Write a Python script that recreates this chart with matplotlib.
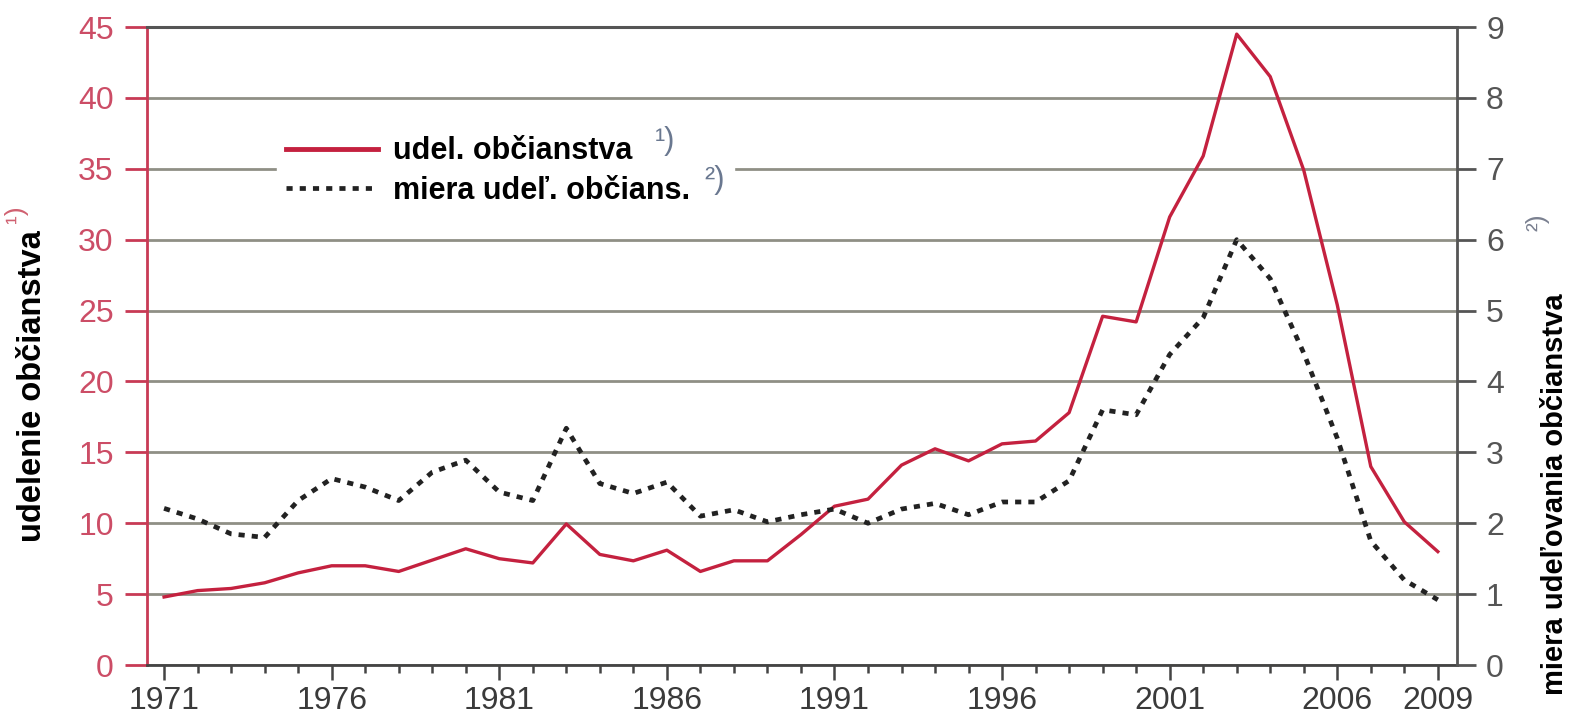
import matplotlib
matplotlib.use("Agg")
import matplotlib.pyplot as plt
from matplotlib.lines import Line2D

# roky
years = list(range(1971, 2010))
# udelenie občianstva (tis.), ľavá os
udelenie = [4.8, 5.25, 5.4, 5.8, 6.5, 7.0, 7.0, 6.6, 7.4, 8.2,
            7.5, 7.2, 9.95, 7.8, 7.35, 8.1, 6.6, 7.35, 7.35, 9.2,
            11.2, 11.7, 14.1, 15.25, 14.4, 15.6, 15.8, 17.8, 24.6, 24.2,
            31.6, 35.9, 44.5, 41.5, 34.9, 25.4, 14.0, 10.1, 8.0]
# miera udeľovania občianstva, pravá os
miera = [2.21, 2.06, 1.85, 1.8, 2.32, 2.63, 2.51, 2.32, 2.72, 2.89,
         2.44, 2.32, 3.34, 2.56, 2.42, 2.58, 2.1, 2.19, 2.02, 2.12,
         2.2, 2.0, 2.2, 2.28, 2.12, 2.3, 2.3, 2.6, 3.6, 3.53,
         4.38, 4.9, 6.0, 5.45, 4.4, 3.2, 1.75, 1.2, 0.92]

left_ticks = [0, 5, 10, 15, 20, 25, 30, 35, 40, 45]
right_ticks = [0, 1, 2, 3, 4, 5, 6, 7, 8, 9]
x_major = [1971, 1976, 1981, 1986, 1991, 1996, 2001, 2006, 2009]

RED = "#c4213f"
RED_AX = "#c83a55"
RED_LBL = "#cc4d66"
GRAY = "#555555"
DOTS = (0, (1.3, 1.5))

plt.rcParams['font.family'] = ['Liberation Sans', 'DejaVu Sans']

fig = plt.figure(figsize=(15.72, 7.22), dpi=100)
ax = fig.add_axes([0.0935, 0.0789, 0.8333, 0.8837])
ax2 = ax.twinx()

ax.set_xlim(1970.49, 2009.57)
ax.set_ylim(0, 45)
ax2.set_ylim(0, 9)

ax.set_yticks(left_ticks)
ax2.set_yticks(right_ticks)
ax.set_xticks(x_major)
ax.set_xticks(years, minor=True)

ax.yaxis.grid(True, color="#8f8f85", lw=2)
ax.set_axisbelow(True)

ax.plot(years, udelenie, color=RED, lw=2.4, zorder=3)
ax2.plot(years, miera, color="#222222", lw=3.4, linestyle=DOTS, zorder=3)

# osi
ax.spines['left'].set_color(RED_AX)
ax.spines['left'].set_linewidth(2)
ax.spines['bottom'].set_color("#444444")
ax.spines['bottom'].set_linewidth(2)
ax.spines['top'].set_color("#555555")
ax.spines['top'].set_linewidth(2.2)
ax.spines['right'].set_visible(False)
ax2.spines['right'].set_color(GRAY)
ax2.spines['right'].set_linewidth(2)
for s in ['left', 'top', 'bottom']:
    ax2.spines[s].set_visible(False)

ax.tick_params(axis='y', direction='out', length=16, width=2, color=RED_AX,
               labelcolor=RED_LBL, labelsize=23, pad=8)
ax2.tick_params(axis='y', direction='out', length=14, width=2, color=GRAY,
                labelcolor=GRAY, labelsize=23, pad=7)
ax.tick_params(axis='x', which='major', direction='out', length=11, width=1.8,
               color="#444444", labelcolor="#3a3a3a", labelsize=23, pad=4)
ax.tick_params(axis='x', which='minor', direction='out', length=6, width=1.8,
               color="#444444")

# legenda (medzery na konci rozširujú biely rámik)
handles = [Line2D([], [], color=RED, lw=3.5),
           Line2D([], [], color="#222222", lw=3.4, linestyle=DOTS)]
labels = ["udel. občianstva", "miera udeľ. občians.    "]
leg = ax2.legend(handles, labels, loc='upper left',
                 bbox_to_anchor=(262 / 1572, 1 - 112 / 722),
                 bbox_transform=fig.transFigure, frameon=True,
                 prop={'weight': 'bold', 'size': 22}, handlelength=3.0,
                 handletextpad=0.5, labelspacing=0.3, borderpad=0.3,
                 fancybox=False, framealpha=1)
leg.get_frame().set_edgecolor("white")
leg.set_zorder(10)

fig.text(655 / 1572, 1 - 141 / 722, "¹)", color="#6a7890", fontsize=22,
         ha='left', va='center')
fig.text(704 / 1572, 1 - 180 / 722, "²)", color="#6a7890", fontsize=22,
         ha='left', va='center')

# popisy osí
fig.text(33 / 1572, 1 - 386 / 722, "udelenie občianstva", rotation=90,
         weight='bold', fontsize=23.5, color="black",
         ha='center', va='center')
fig.text(16 / 1572, 1 - 214 / 722, "¹)", rotation=90, color="#d06070",
         fontsize=19, ha='center', va='center')
fig.text(1555 / 1572, 1 - 494 / 722, "miera udeľovania občianstva", rotation=90,
         weight='bold', fontsize=21, color="black",
         ha='center', va='center')
fig.text(1538 / 1572, 1 - 222 / 722, "²)", rotation=90, color="#7a8090",
         fontsize=19, ha='center', va='center')

fig.savefig("out.png", dpi=100)
